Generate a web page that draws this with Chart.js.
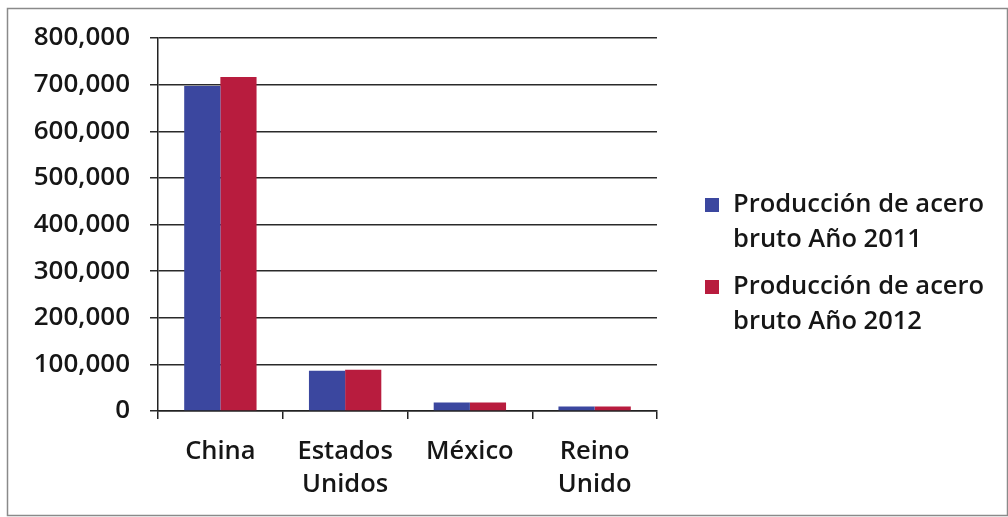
<!DOCTYPE html>
<html>
<head>
<meta charset="utf-8">
<script src="https://cdn.jsdelivr.net/npm/chart.js@4.4.1/dist/chart.umd.min.js"></script>
<style>
  html, body { margin: 0; padding: 0; background: #fff; }
  #wrap { width: 1008px; height: 517px; }
</style>
</head>
<body>
<div id="wrap"><canvas id="chart" width="1008" height="517"></canvas></div>
<script>
const countries = [["China"], ["Estados", "Unidos"], ["México"], ["Reino", "Unido"]];
const seriesNames = [["Producción de acero", "bruto Año 2011"], ["Producción de acero", "bruto Año 2012"]];
const steel2011 = [697000, 86400, 18100, 9500];
const steel2012 = [716500, 88600, 18100, 9600];
const colors = ["#3b479f", "#b81c3e"];

const FONT = "'Open Sans', Lato, sans-serif";
const INK = "#161616";

// legend with two-line labels, drawn to the right of the plot
const sideLegend = {
    id: "sideLegend",
    afterDraw(chart) {
        const ctx = chart.ctx;
        ctx.save();
        ctx.font = `600 25.5px ${FONT}`;
        ctx.textBaseline = "middle";
        chart.data.datasets.forEach((ds, i) => {
            const y0 = 205 + i * 82;
            ctx.fillStyle = ds.backgroundColor;
            ctx.fillRect(705, y0 - 7, 14, 14);
            ctx.fillStyle = INK;
            ds.label.forEach((line, j) => ctx.fillText(line, 733, y0 + j * 35));
        });
        ctx.restore();
    }
};

// thin frame round the whole chart
const frame = {
    id: "frame",
    beforeDraw(chart) {
        const ctx = chart.ctx;
        ctx.save();
        ctx.strokeStyle = "#8a8a8a";
        ctx.lineWidth = 1.5;
        ctx.strokeRect(7.5, 8.5, 1000, 507);
        ctx.restore();
    }
};

new Chart(document.getElementById("chart"), {
    type: "bar",
    data: {
        labels: countries,
        datasets: [
            { label: seriesNames[0], data: steel2011, backgroundColor: colors[0] },
            { label: seriesNames[1], data: steel2012, backgroundColor: colors[1] }
        ]
    },
    options: {
        responsive: false,
        animation: false,
        layout: { padding: { left: 8, top: 38, right: 351, bottom: 10 } },
        plugins: { legend: { display: false }, tooltip: { enabled: false } },
        datasets: { bar: { categoryPercentage: 0.58, barPercentage: 1.0 } },
        scales: {
            x: {
                afterFit: s => { s.height = 96; },
                grid: { offset: true, drawOnChartArea: false, drawTicks: true, tickLength: 8, color: "#222", lineWidth: 1.5 },
                border: { color: "#222", width: 1.5 },
                ticks: { color: INK, font: { family: FONT, size: 25.5, weight: "600", lineHeight: 1.3 }, padding: 16, maxRotation: 0 }
            },
            y: {
                min: 0, max: 800000,
                afterFit: s => { s.width = 150; },
                grid: { color: "#2a2a2a", lineWidth: 1.5, tickLength: 8 },
                border: { color: "#222", width: 1.5 },
                ticks: {
                    stepSize: 100000, color: INK, padding: 20,
                    font: { family: FONT, size: 26, weight: "600" },
                    callback: v => v.toLocaleString("en-US")
                }
            }
        }
    },
    plugins: [frame, sideLegend]
});
</script>
</body>
</html>
